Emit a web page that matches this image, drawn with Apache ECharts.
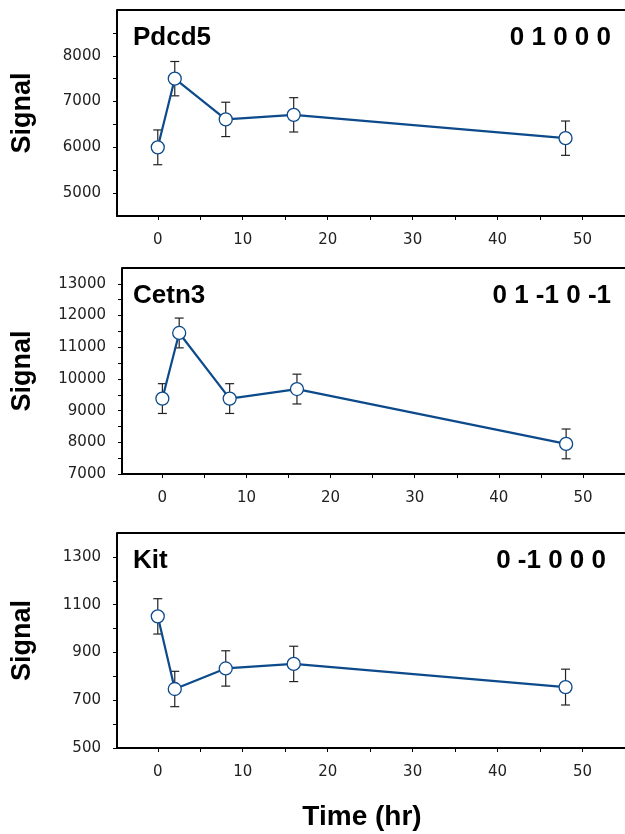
<!DOCTYPE html>
<html>
<head>
<meta charset="utf-8">
<script src="https://cdn.jsdelivr.net/npm/echarts@6/dist/echarts.min.js"></script>
<style>
html, body { margin: 0; padding: 0; background: #fff; }
#chart { width: 625px; height: 834px; }
</style>
</head>
<body>
<div id="chart"></div>
<script>
var times = [0, 2, 8, 16, 48];
var xTicks = [0, 5, 10, 15, 20, 25, 30, 35, 40, 45, 50];
var xLabels = [0, 10, 20, 30, 40, 50];

var genes = ['Pdcd5', 'Cetn3', 'Kit'];
var codes = ['0 1 0 0 0', '0 1 -1 0 -1', '0 -1 0 0 0'];

var pdcd5Mean = [6000, 7500, 6610, 6710, 6200];
var pdcd5Err = [380, 375, 375, 375, 375];
var cetn3Mean = [9380, 11450, 9380, 9680, 7950];
var cetn3Err = [470, 470, 470, 470, 470];
var kitMean = [1051, 747, 833, 852, 755];
var kitErr = [74, 74, 74, 74, 75];

var yTicks1 = [5000, 5500, 6000, 6500, 7000, 7500, 8000, 8500];
var yLabels1 = [5000, 6000, 7000, 8000];
var yTicks2 = [7000, 7500, 8000, 8500, 9000, 9500, 10000, 10500, 11000, 11500, 12000, 12500, 13000];
var yLabels2 = [7000, 8000, 9000, 10000, 11000, 12000, 13000];
var yTicks3 = [500, 600, 700, 800, 900, 1000, 1100, 1200, 1300];
var yLabels3 = [500, 700, 900, 1100, 1300];

var yRanges = [[4500, 9000], [7000, 13500], [500, 1400]];

var lineColor = '#0c4a8b';
var fontName = '"Liberation Sans", Arial, Helvetica, sans-serif';
var tickFont = '"DejaVu Sans", sans-serif';

var grids = [
	{left: 117, top: 10, width: 515, height: 206},
	{left: 122, top: 268, width: 510, height: 206},
	{left: 117, top: 533, width: 515, height: 215}
];

var panels = [
	{mean: pdcd5Mean, err: pdcd5Err, ticks: yTicks1, labels: yLabels1},
	{mean: cetn3Mean, err: cetn3Err, ticks: yTicks2, labels: yLabels2},
	{mean: kitMean, err: kitErr, ticks: yTicks3, labels: yLabels3}
];

var xAxes = [], yAxes = [], series = [], titles = [];

panels.forEach(function(p, i) {
	xAxes.push({
		gridIndex: i,
		type: 'value',
		min: -4.8,
		max: 55,
		axisLine: {onZero: false, lineStyle: {color: '#000', width: 2}},
		axisTick: {show: true, customValues: xTicks, length: 4, lineStyle: {color: '#000', width: 1}},
		axisLabel: {customValues: xLabels, margin: 17, fontSize: 15, color: '#222', fontFamily: tickFont},
		splitLine: {show: false}
	});
	yAxes.push({
		gridIndex: i,
		type: 'value',
		min: yRanges[i][0],
		max: yRanges[i][1],
		name: 'Signal',
		nameLocation: 'middle',
		nameGap: grids[i].left - 36,
		nameTextStyle: {fontSize: 27, fontWeight: 'bold', color: '#000', fontFamily: fontName},
		axisLine: {show: true, onZero: false, lineStyle: {color: '#000', width: 2}},
		axisTick: {show: true, customValues: p.ticks, length: 4, lineStyle: {color: '#000', width: 1}},
		axisLabel: {
			customValues: p.labels, margin: 16, fontSize: 15, color: '#222', fontFamily: tickFont,
			formatter: function(v) { return String(v); }
		},
		splitLine: {show: false}
	});

	var pts = [], bars = [];
	for (var k = 0; k < times.length; k++) {
		pts.push([times[k], p.mean[k]]);
		bars.push([times[k], p.mean[k] - p.err[k], p.mean[k] + p.err[k]]);
	}

	// error bars
	series.push({
		type: 'custom',
		xAxisIndex: i,
		yAxisIndex: i,
		data: bars,
		z: 1,
		silent: true,
		renderItem: function(params, api) {
			var lo = api.coord([api.value(0), api.value(1)]);
			var hi = api.coord([api.value(0), api.value(2)]);
			var w = 4.5;
			var st = {stroke: '#222', lineWidth: 1.2};
			return {
				type: 'group',
				children: [
					{type: 'line', shape: {x1: lo[0], y1: lo[1], x2: hi[0], y2: hi[1]}, style: st},
					{type: 'line', shape: {x1: lo[0] - w, y1: lo[1], x2: lo[0] + w, y2: lo[1]}, style: st},
					{type: 'line', shape: {x1: hi[0] - w, y1: hi[1], x2: hi[0] + w, y2: hi[1]}, style: st}
				]
			};
		}
	});

	series.push({
		type: 'line',
		xAxisIndex: i,
		yAxisIndex: i,
		data: pts,
		z: 3,
		symbol: 'circle',
		symbolSize: 13,
		lineStyle: {color: lineColor, width: 2.2},
		itemStyle: {color: '#fff', borderColor: lineColor, borderWidth: 1.3},
		animation: false
	});

	titles.push({
		text: genes[i],
		left: 133,
		top: grids[i].top + 15,
		padding: 0,
		textStyle: {fontSize: 26, fontWeight: 'bold', color: '#000', fontFamily: fontName}
	});
	titles.push({
		text: codes[i],
		right: i == 2 ? 19 : 14,
		top: grids[i].top + 15,
		padding: 0,
		textStyle: {fontSize: 26, fontWeight: 'bold', color: '#000', fontFamily: fontName}
	});
});

// top border of each panel
var graphics = grids.map(function(g) {
	return {
		type: 'line',
		shape: {x1: g.left, y1: g.top, x2: 625, y2: g.top},
		style: {stroke: '#000', lineWidth: 2}
	};
});
graphics.push({
	type: 'text',
	x: 362,
	y: 817,
	style: {
		text: 'Time (hr)', fontSize: 28, fontWeight: 'bold', fill: '#000', fontFamily: fontName,
		align: 'center', verticalAlign: 'middle'
	}
});

var myChart = echarts.init(document.getElementById('chart'));
var option = {
	animation: false,
	backgroundColor: '#fff',
	title: titles,
	grid: grids,
	xAxis: xAxes,
	yAxis: yAxes,
	series: series,
	graphic: graphics
};
myChart.setOption(option);
</script>
</body>
</html>
